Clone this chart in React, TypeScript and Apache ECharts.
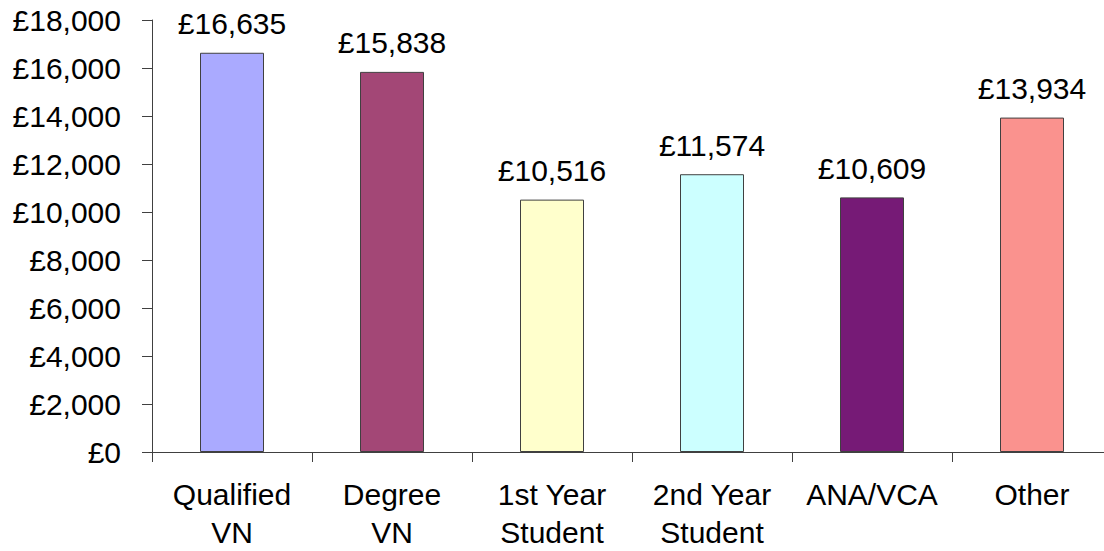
import React, { useEffect, useRef } from "react";
import * as echarts from "echarts";

const categories = ["Qualified\nVN", "Degree\nVN", "1st Year\nStudent", "2nd Year\nStudent", "ANA/VCA", "Other"];
const salaries = [16635, 15838, 10516, 11574, 10609, 13934];
const barColors = ["#AAAAFF", "#A34776", "#FFFFCC", "#CCFFFF", "#761A76", "#FA928E"];
const yMin = 0;
const yMax = 18000;
const yStep = 2000;

const fmt = (v: number) => "£" + v.toLocaleString("en-GB");
const FONT = "'Liberation Sans', Arial, sans-serif";

export default function App() {
  const ref = useRef<HTMLDivElement>(null);
  useEffect(() => {
    if (!ref.current) return;
    const chart = echarts.init(ref.current, undefined, { renderer: "svg" });
    chart.setOption({
      animation: false,
      backgroundColor: "#ffffff",
      grid: { left: 152, top: 20, right: 0, bottom: 99 },
      xAxis: {
        type: "category",
        data: categories,
        axisLine: { lineStyle: { color: "#404040", width: 1 } },
        axisTick: { show: true, length: 10, lineStyle: { color: "#404040" } },
        axisLabel: {
          color: "#000",
          fontSize: 30,
          fontFamily: FONT,
          lineHeight: 38,
          margin: 23,
          interval: 0,
        },
      },
      yAxis: {
        type: "value",
        min: yMin,
        max: yMax,
        interval: yStep,
        splitLine: { show: false },
        axisLine: { show: true, lineStyle: { color: "#404040", width: 1 } },
        axisTick: { show: true, length: 10, lineStyle: { color: "#404040" } },
        axisLabel: {
          color: "#000",
          fontSize: 30,
          fontFamily: FONT,
          margin: 31,
          formatter: (v: number) => fmt(v),
        },
      },
      series: [
        {
          type: "bar",
          barWidth: 64,
          data: salaries.map((v, i) => ({
            value: v,
            itemStyle: { color: barColors[i], borderColor: "#404040", borderWidth: 1 },
          })),
          label: {
            show: true,
            position: "top",
            distance: 14,
            color: "#000",
            fontSize: 30,
            fontFamily: FONT,
            formatter: (p: any) => fmt(p.value),
          },
        },
      ],
    });
    return () => chart.dispose();
  }, []);
  return (
    <div
      ref={ref}
      style={{ position: "fixed", left: 0, top: 0, width: 1112, height: 551 }}
    />
  );
}
